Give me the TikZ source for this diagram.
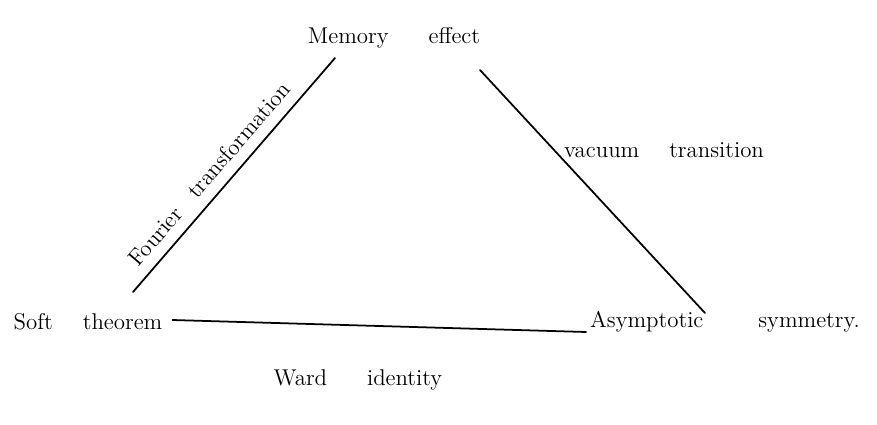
\documentclass[tikz,border=0pt]{standalone}
\usepackage{tikz}
\usetikzlibrary{calc}
\tikzset{term/.style={inner sep=1pt,font=\fontsize{13}{15}\selectfont},
 link/.style={draw=black,line width=1pt},
 every picture/.style={line join=round,line cap=round}}

\begin{document}
\begin{tikzpicture}[x=0.02cm,y=-0.02cm]
\useasboundingbox (0,0) rectangle (877,424);
\node[term] (mem) at (394,38) {Memory\hspace{0.8cm}effect};
\node[term] (soft) at (88,322) {Soft\hspace{0.6cm}theorem};
\node[term] (asym) at (725,322) {Asymptotic\hspace{1.1cm}symmetry.};
\node[term] (ward) at (358,380) {Ward\hspace{0.8cm}identity};
\node[term] (vac) at (664,150) {vacuum\hspace{0.6cm}transition};
\coordinate (memL) at (335,58);
\coordinate (memR) at (480,70);
\coordinate (softT) at (133,292);
\coordinate (asymT) at (705,313);
\draw[link] (softT) -- node[term,sloped,above,pos=0.45,yshift=5pt] (four) {Fourier\hspace{0.4cm}transformation} (memL);
\draw[link] (soft.east) ++(8,-2) -- ($(asym.west)+(-2,10)$);
\draw[link] (memR) -- (asymT);
\end{tikzpicture}
\end{document}
